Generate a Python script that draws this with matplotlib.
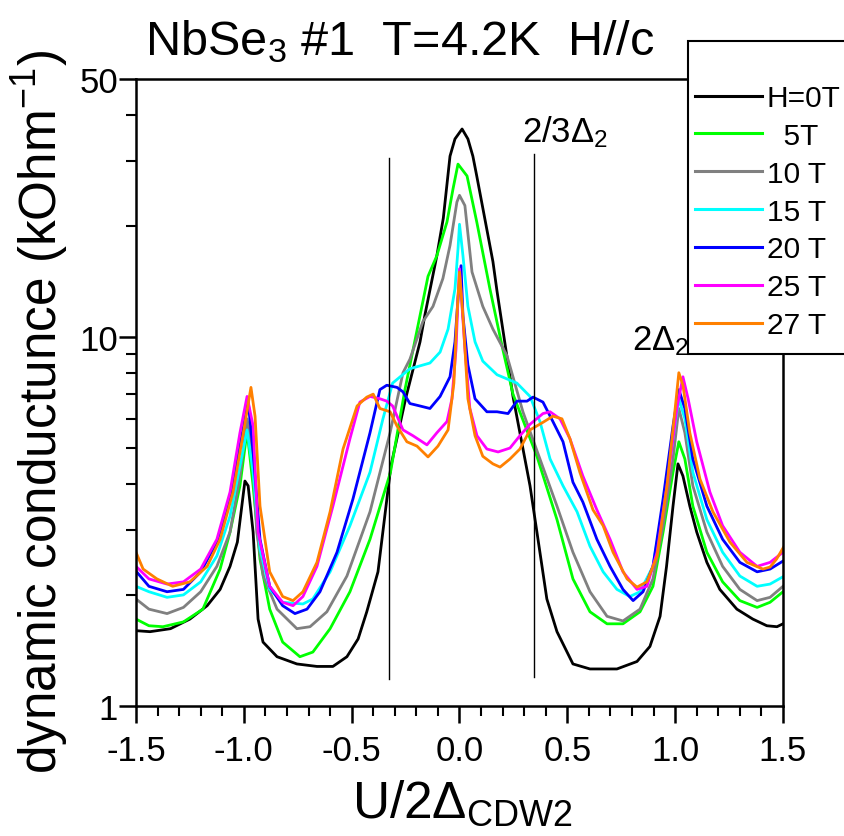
import numpy as np
import matplotlib
matplotlib.use("Agg")
import matplotlib.pyplot as plt
from matplotlib.ticker import FixedLocator, NullFormatter, MultipleLocator
from matplotlib.patches import Rectangle

plt.rcParams["font.family"] = ["Liberation Sans", "DejaVu Sans"]
plt.rcParams["mathtext.fontset"] = "custom"
plt.rcParams["mathtext.rm"] = "Liberation Sans"
plt.rcParams["mathtext.it"] = "Liberation Sans:italic"
plt.rcParams["mathtext.bf"] = "Liberation Sans:bold"

# --- donnees (U/2Delta, conductance en kOhm^-1) ---
x_0T = [-1.5, -1.435, -1.34, -1.25, -1.17, -1.11, -1.064, -1.03, -0.995, -0.98,
        -0.957, -0.934, -0.911, -0.846, -0.754, -0.661, -0.587, -0.522, -0.47,
        -0.43, -0.378, -0.318, -0.25, -0.183, -0.16, -0.105, -0.075, -0.044,
        -0.021, 0.012, 0.039, 0.062, 0.08, 0.155, 0.174, 0.248, 0.327, 0.359,
        0.405, 0.452, 0.526, 0.605, 0.73, 0.823, 0.883, 0.93, 0.96, 0.99, 1.013,
        1.036, 1.068, 1.1, 1.147, 1.207, 1.286, 1.36, 1.425, 1.472, 1.5]
y_0T = [1.60, 1.59, 1.62, 1.72, 1.87, 2.07, 2.39, 2.78, 4.07, 3.95,
        2.96, 1.72, 1.49, 1.36, 1.30, 1.28, 1.28, 1.36, 1.52,
        1.80, 2.31, 4.47, 6.8, 9.7, 11.5, 16.6, 21.0, 30.9,
        34.4, 36.6, 34.4, 30.9, 27.3, 16.0, 13.3, 6.9, 3.95, 2.96,
        1.95, 1.59, 1.30, 1.26, 1.26, 1.32, 1.45, 1.75, 2.39, 3.48, 4.53,
        4.2, 3.48, 2.96, 2.45, 2.07, 1.83, 1.72, 1.65, 1.64, 1.67]

x_5T = [-1.5, -1.44, -1.375, -1.28, -1.19, -1.11, -1.064, -1.018, -0.985, -0.957,
        -0.925, -0.88, -0.82, -0.74, -0.68, -0.6, -0.508, -0.415, -0.32, -0.253,
        -0.146, -0.105, -0.058, -0.03, -0.007, 0.035, 0.08, 0.141, 0.2, 0.248,
        0.359, 0.452, 0.526, 0.605, 0.684, 0.758, 0.837, 0.897, 0.944, 0.99,
        1.017, 1.045, 1.082, 1.147, 1.22, 1.3, 1.38, 1.44, 1.5]
y_5T = [1.72, 1.65, 1.64, 1.69, 1.83, 2.35, 2.96, 3.95, 5.56, 3.95,
        2.5, 1.83, 1.49, 1.36, 1.40, 1.62, 2.04, 2.83, 4.3, 7.2,
        14.6, 16.6, 20.5, 25.2, 29.4, 27.3, 20.5, 13.5, 9.3, 7.0,
        4.75, 3.2, 2.21, 1.80, 1.67, 1.67, 1.80, 2.11, 2.96, 4.3,
        5.2, 4.67, 3.48, 2.61, 2.17, 1.93, 1.85, 1.91, 2.04]

x_10T = [-1.5, -1.44, -1.356, -1.28, -1.2, -1.125, -1.064, -1.018, -0.985, -0.962,
         -0.94, -0.91, -0.846, -0.754, -0.693, -0.615, -0.522, -0.415, -0.322,
         -0.262, -0.23, -0.17, -0.123, -0.077, -0.044, -0.012, 0.0, 0.025, 0.058,
         0.108, 0.155, 0.22, 0.294, 0.373, 0.452, 0.526, 0.605, 0.684, 0.758,
         0.837, 0.897, 0.944, 0.99, 1.017, 1.045, 1.082, 1.147, 1.22, 1.3, 1.38,
         1.44, 1.5]
y_10T = [1.95, 1.83, 1.78, 1.85, 2.04, 2.39, 2.96, 4.2, 6.0, 4.97,
         2.96, 2.25, 1.83, 1.62, 1.64, 1.80, 2.25, 3.36, 5.5,
         8.0, 8.7, 11.0, 12.1, 14.4, 17.7, 23.2, 24.2, 22.7, 15.0,
         12.1, 10.5, 8.9, 6.27, 4.67, 3.48, 2.61, 2.04, 1.75, 1.70,
         1.83, 2.21, 3.08, 4.67, 6.4, 5.5, 3.95, 2.96, 2.39, 2.07, 1.93,
         1.97, 2.11]

x_15T = [-1.5, -1.44, -1.356, -1.28, -1.2, -1.125, -1.064, -1.018, -0.985, -0.957,
         -0.925, -0.88, -0.82, -0.726, -0.68, -0.6, -0.508, -0.415, -0.355, -0.31,
         -0.23, -0.137, -0.09, -0.053, -0.021, -0.007, 0.0, 0.016, 0.039, 0.072,
         0.108, 0.174, 0.266, 0.327, 0.373, 0.42, 0.48, 0.545, 0.605, 0.666,
         0.73, 0.79, 0.837, 0.897, 0.944, 0.99, 1.017, 1.045, 1.082, 1.147,
         1.22, 1.3, 1.38, 1.44, 1.5]
y_15T = [2.11, 2.04, 1.97, 2.0, 2.17, 2.55, 3.27, 4.47, 5.6, 4.3,
         2.66, 2.07, 1.91, 1.89, 1.95, 2.31, 3.08, 4.3, 6.0, 7.5,
         8.2, 8.5, 9.1, 10.5, 13.5, 17.3, 20.2, 16.6, 12.1, 9.7,
         8.6, 7.9, 7.5, 6.9, 5.9, 4.67, 3.95, 3.36, 2.71, 2.31,
         2.07, 1.98, 2.04, 2.39, 3.48, 5.3, 6.8, 6.0, 4.3, 3.2,
         2.61, 2.25, 2.11, 2.14, 2.24]

x_20T = [-1.5, -1.44, -1.356, -1.28, -1.2, -1.125, -1.064, -1.018, -0.98, -0.957,
         -0.925, -0.88, -0.82, -0.763, -0.707, -0.647, -0.568, -0.494, -0.415,
         -0.369, -0.337, -0.29, -0.262, -0.23, -0.183, -0.137, -0.09, -0.044,
         -0.021, -0.007, 0.007, 0.016, 0.039, 0.072, 0.127, 0.174, 0.225, 0.266,
         0.313, 0.341, 0.387, 0.433, 0.48, 0.526, 0.572, 0.637, 0.698, 0.758,
         0.805, 0.851, 0.897, 0.944, 0.99, 1.017, 1.045, 1.082, 1.147, 1.22,
         1.3, 1.38, 1.44, 1.5]
y_20T = [2.32, 2.11, 2.04, 2.07, 2.31, 2.78, 3.64, 5.06, 6.7, 4.88,
         2.83, 2.11, 1.87, 1.78, 1.83, 2.04, 2.61, 3.64, 5.5,
         7.2, 7.4, 7.3, 7.1, 6.6, 6.5, 6.4, 6.9, 7.8,
         9.7, 12.7, 15.6, 11.4, 8.4, 6.8, 6.27, 6.27, 6.2, 6.7,
         6.7, 6.87, 6.66, 5.9, 5.2, 4.04, 3.57, 2.83, 2.39, 2.07,
         1.93, 2.04, 2.39, 3.64, 5.74, 7.2, 6.4, 4.67, 3.48, 2.83,
         2.45, 2.31, 2.35, 2.47]

x_25T = [-1.5, -1.44, -1.356, -1.28, -1.2, -1.125, -1.064, -1.018, -0.985, -0.957,
         -0.934, -0.88, -0.82, -0.772, -0.726, -0.661, -0.587, -0.508, -0.462,
         -0.415, -0.369, -0.337, -0.31, -0.262, -0.216, -0.151, -0.105, -0.058,
         -0.035, -0.016, -0.007, 0.0, 0.025, 0.048, 0.081, 0.127, 0.179, 0.234,
         0.28, 0.327, 0.387, 0.42, 0.466, 0.512, 0.572, 0.637, 0.698, 0.758,
         0.823, 0.869, 0.916, 0.962, 1.008, 1.036, 1.06, 1.1, 1.161, 1.22, 1.3,
         1.38, 1.44, 1.5]
y_25T = [2.39, 2.21, 2.14, 2.17, 2.35, 2.83, 3.8, 5.5, 6.9, 5.74,
         2.96, 2.11, 1.91, 1.87, 1.98, 2.39, 3.48, 5.3, 6.66,
         6.9, 6.8, 6.7, 6.5, 5.6, 5.4, 5.1, 5.5, 5.9,
         6.8, 9.3, 12.7, 15.3, 9.3, 6.4, 5.4, 4.97, 4.88, 5.0,
         5.4, 5.8, 6.2, 6.27, 6.0, 5.3, 4.2, 3.4, 2.83, 2.31,
         2.07, 2.11, 2.61, 3.95, 6.4, 7.8, 6.8, 5.2, 3.8, 3.08, 2.61,
         2.39, 2.45, 2.61]

x_27T = [-1.5, -1.467, -1.403, -1.33, -1.25, -1.17, -1.11, -1.05, -1.0, -0.967,
         -0.948, -0.925, -0.88, -0.82, -0.772, -0.726, -0.661, -0.6, -0.54,
         -0.475, -0.43, -0.4, -0.369, -0.322, -0.29, -0.244, -0.197, -0.146,
         -0.1, -0.053, -0.026, -0.012, 0.0, 0.016, 0.039, 0.072, 0.108, 0.155,
         0.188, 0.234, 0.28, 0.327, 0.387, 0.433, 0.475, 0.512, 0.558, 0.619,
         0.666, 0.712, 0.777, 0.823, 0.869, 0.916, 0.962, 1.0, 1.017, 1.036,
         1.068, 1.115, 1.175, 1.254, 1.333, 1.407, 1.44, 1.47, 1.505]
y_27T = [2.61, 2.35, 2.21, 2.11, 2.17, 2.39, 2.83, 3.8, 5.6, 7.3,
         6.1, 3.48, 2.31, 1.98, 1.93, 2.04, 2.45, 3.36, 4.97,
         6.5, 6.87, 7.0, 6.4, 6.27, 5.74, 5.2, 5.06, 4.73,
         5.06, 5.6, 7.5, 11.4, 15.0, 11.4, 6.8, 5.4, 4.75, 4.53,
         4.44, 4.67, 4.97, 5.6, 5.87, 6.1, 6.0, 5.3, 4.3, 3.4,
         3.08, 2.61, 2.21, 2.1, 2.17, 2.55, 3.95, 6.4, 8.0, 7.4,
         5.5, 4.12, 3.36, 2.78, 2.45, 2.35, 2.38, 2.5, 2.71]

series = [
    (x_0T, y_0T, "H=0T", "#000000"),
    (x_5T, y_5T, "  5T", "#00ff00"),
    (x_10T, y_10T, "10 T", "#808080"),
    (x_15T, y_15T, "15 T", "#00ffff"),
    (x_20T, y_20T, "20 T", "#0000ff"),
    (x_25T, y_25T, "25 T", "#ff00ff"),
    (x_27T, y_27T, "27 T", "#ff8000"),
]

# lignes verticales 2/3 Delta_2
x_vlines = [-0.327, 0.345]
y_vlines = [(1.18, 30.5), (1.2, 31.3)]

W, H = 845, 837
fig = plt.figure(figsize=(W / 100, H / 100), dpi=100)
ax = fig.add_axes([136 / W, 1 - 707 / H, 647 / W, 627 / H])

handles = []
for xs, ys, lab, col in series:
    h, = ax.plot(xs, ys, color=col, lw=2.0, label=lab)
    handles.append(h)

for xv, (y0, y1) in zip(x_vlines, y_vlines):
    ax.plot([xv, xv], [y0, y1], color="k", lw=1.0)

ax.set_yscale("log")
ax.set_xlim(-1.5, 1.5)
ax.set_ylim(1, 50)
ax.yaxis.set_major_locator(FixedLocator([1, 10, 50]))
ax.set_yticklabels(["1", "10", "50"])
ax.yaxis.set_minor_locator(FixedLocator([2, 3, 4, 5, 6, 7, 8, 9, 20, 30, 40]))
ax.yaxis.set_minor_formatter(NullFormatter())
xt = [-1.5, -1.0, -0.5, 0.0, 0.5, 1.0, 1.5]
ax.set_xticks(xt)
ax.set_xticklabels([f"{v:.1f}" for v in xt])
ax.xaxis.set_minor_locator(MultipleLocator(0.1))

for s in ax.spines.values():
    s.set_linewidth(1.8)
ax.tick_params(which="both", direction="out", top=False, right=False, labelsize=25)
ax.tick_params(axis="x", which="major", length=12, width=1.8, pad=8)
ax.tick_params(axis="y", which="major", length=12, width=1.8, pad=1)
ax.tick_params(which="minor", length=7, width=1.5)

ax.text(0.29, 33.8, r"2/3Δ$_\mathregular{2}$", fontsize=25, va="baseline")
ax.text(0.80, 9.28, r"2Δ$_\mathregular{2}$", fontsize=25, va="baseline")

fig.text(400 / W, 1 - 55 / H, r"NbSe$_\mathregular{3}$ #1  T=4.2K  H//c",
         fontsize=35, ha="center", va="baseline")
fig.text(462 / W, 1 - 818 / H, r"U/2Δ$_\mathregular{CDW2}$",
         fontsize=37, ha="center", va="baseline")
fig.text(40 / W, 1 - 412 / H, r"dynamic conductunce (kOhm$^\mathregular{-1}$)",
         fontsize=37, rotation=90, ha="center", va="center")

# cadre de legende (deborde a droite de la figure)
box = Rectangle((688 / W, 1 - 355 / H), 200 / W, 313 / H, transform=fig.transFigure,
                facecolor="white", edgecolor="black", lw=1.5, zorder=3)
fig.add_artist(box)
leg = fig.legend(handles=handles, loc="upper left", bbox_to_anchor=(695 / W, 1 - 85 / H),
                 frameon=False, fontsize=21.5, handlelength=2.25, handletextpad=0.15,
                 labelspacing=0.33, borderpad=0, borderaxespad=0)
leg.set_zorder(4)
for l in leg.get_lines():
    l.set_linewidth(2.2)

fig.savefig("out.png", dpi=100)
